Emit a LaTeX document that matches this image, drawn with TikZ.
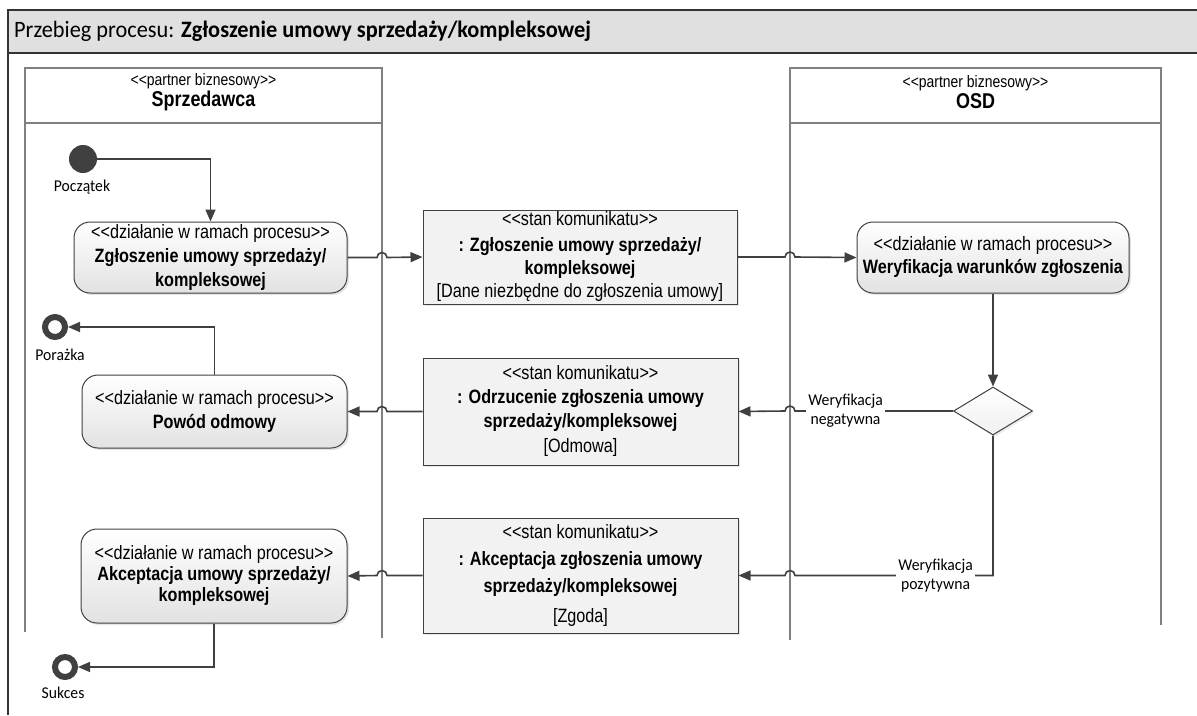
\documentclass[tikz,border=0pt]{standalone}
\usepackage{fontspec}
\setmainfont[FakeStretch=0.95]{Carlito}
\setsansfont[FakeStretch=0.84]{Liberation Sans}
\usetikzlibrary{arrows.meta, calc, positioning, shapes.geometric, shadows}
\definecolor{linegray}{RGB}{64,64,64}
\definecolor{lanegray}{RGB}{128,128,128}
\definecolor{bandgray}{RGB}{224,224,224}
\definecolor{msgfill}{RGB}{242,242,242}
\definecolor{actbottom}{RGB}{226,226,226}
\newcommand{\stereo}[1]{<\kern0pt<#1>\kern0pt>}

\begin{document}
\begin{tikzpicture}[x=1pt, y=1pt,
    lane/.style={draw=lanegray, line width=1.2pt},
    frameline/.style={draw=black!80, line width=1.4pt},
    lanetitle/.style={align=center, inner sep=0pt, font=\sffamily\fontsize{16.6}{21}\selectfont},
    action/.style={draw=linegray, line width=1pt, rounded corners=16pt, top color=white, bottom color=actbottom,
        drop shadow={shadow xshift=2pt, shadow yshift=-2pt, fill=black!20}, align=center, inner sep=0pt,
        font=\sffamily\fontsize{19.3}{24}\selectfont},
    msgbox/.style={draw=linegray, line width=1pt, fill=msgfill,
        drop shadow={shadow xshift=2pt, shadow yshift=-2pt, fill=black!20}, align=center, inner sep=0pt,
        font=\sffamily\fontsize{19.3}{24}\selectfont},
    decision/.style={diamond, draw=linegray, line width=1pt, top color=white, bottom color=black!6,
        drop shadow={shadow xshift=2pt, shadow yshift=-2pt, fill=black!15},
        minimum width=79pt, minimum height=48pt, inner sep=0pt},
    startnode/.style={circle, fill=linegray, minimum size=28pt, inner sep=0pt},
    endnode/.style={circle, draw=linegray, line width=6pt, fill=white, minimum size=20pt, inner sep=0pt},
    smalllabel/.style={inner sep=0pt, font=\fontsize{16.5}{19}\selectfont},
    edgelabel/.style={fill=white, inner sep=2pt, align=center, font=\fontsize{16.5}{19}\selectfont},
    flow/.style={draw=linegray, line width=1.6pt, -{Triangle[length=12pt, width=10pt]}}]
    \useasboundingbox (0,0) rectangle (1197,-715);

    % Frame
    \fill[bandgray] (8,-10) rectangle (1197,-53);
    \draw[frameline] (1197,-10) -- (8,-10) -- (8,-715);
    \draw[frameline] (8,-53) -- (1197,-53);
    \node[anchor=west, inner sep=0pt, font=\fontsize{23.5}{26}\selectfont] (title) at (14,-31.5)
        {Przebieg procesu: \textbf{Zgłoszenie umowy sprzedaży/kompleksowej}};

    % Lanes
    \draw[lane] (25,-632) -- (25,-68) -- (382,-68) -- (382,-638);
    \draw[lane] (25,-123) -- (382,-123);
    \draw[lane] (790,-640) -- (790,-68) -- (1161,-68) -- (1161,-625);
    \draw[lane] (790,-123) -- (1161,-123);
    \coordinate (sepL) at (382,-68);
    \coordinate (sepR) at (790,-68);
    \node[lanetitle] (laneL) at (203.5,-92.5) {\stereo{partner biznesowy}\\ {\fontsize{21.4}{21}\selectfont\bfseries Sprzedawca}};
    \node[lanetitle] (laneR) at (975.5,-92.5) {\stereo{partner biznesowy}\\ {\fontsize{21.4}{21}\selectfont\bfseries OSD}};

    % Sprzedawca
    \node[startnode] (start) at (83,-159) {};
    \node[smalllabel] (startlbl) at (82,-187) {Początek};
    \node[action, minimum width=273pt, minimum height=71pt] (act1) at (210.5,-257.5)
        {\stereo{działanie w ramach procesu}\\ \textbf{Zgłoszenie umowy sprzedaży/}\\ \textbf{kompleksowej}};
    \node[endnode] (fail) at (55,-327) {};
    \node[smalllabel] (faillbl) at (60,-355) {Porażka};
    \node[action, minimum width=265pt, minimum height=73pt] (act2) at (214.5,-411.5)
        {\stereo{działanie w ramach procesu}\\ \textbf{Powód odmowy}};
    \node[action, minimum width=266pt, minimum height=94pt] (act3) at (214,-576)
        {\stereo{działanie w ramach procesu}\\[-3pt] \textbf{Akceptacja umowy sprzedaży/}\\[-3pt] \textbf{kompleksowej}};
    \node[endnode] (done) at (65,-667) {};
    \node[smalllabel] (donelbl) at (63,-693) {Sukces};

    % Messages
    \node[msgbox, minimum width=314pt, minimum height=94pt] (msg1) at (580,-257)
        {\stereo{stan komunikatu}\\[2pt] \textbf{: Zgłoszenie umowy sprzedaży/}\\[-1pt] \textbf{kompleksowej}\\[-1pt] [Dane niezbędne do zgłoszenia umowy]};
    \node[msgbox, minimum width=315pt, minimum height=107pt] (msg2) at (580.5,-411.5)
        {\stereo{stan komunikatu}\\ \textbf{: Odrzucenie zgłoszenia umowy}\\ \textbf{sprzedaży/kompleksowej}\\[1pt] [Odmowa]};
    \node[msgbox, minimum width=315pt, minimum height=115pt] (msg3) at (580.5,-575.5)
        {\stereo{stan komunikatu}\\[3pt] \textbf{: Akceptacja zgłoszenia umowy}\\[3pt] \textbf{sprzedaży/kompleksowej}\\[6pt] [Zgoda]};

    % OSD
    \node[action, minimum width=272pt, minimum height=71pt] (osd) at (993,-257.5)
        {\stereo{działanie w ramach procesu}\\[-1pt] \textbf{Weryfikacja warunków zgłoszenia}};
    \node[decision] (dec) at (993,-411) {};

    % Flows
    \draw[flow] (start) -| (act1.north);
    \draw[flow] (act1.east) -- ($(act1.east -| sepL)+(-5,0)$) arc[start angle=180, end angle=0, radius=5pt] -- (msg1.west);
    \draw[flow] (msg1.east) -- ($(msg1.east -| sepR)+(-5,0)$) arc[start angle=180, end angle=0, radius=5pt] -- (osd.west);
    \draw[flow] (osd.south) -- (dec.north);
    \draw[flow] (dec.west) -- node[edgelabel, pos=.68] (neglbl) {Weryfikacja\\negatywna}
        ($(dec.west -| sepR)+(5,0)$) arc[start angle=0, end angle=180, radius=5pt] -- (msg2.east);
    \draw[flow] (msg2.west) -- ($(msg2.west -| sepL)+(5,0)$) arc[start angle=0, end angle=180, radius=5pt] -- (act2.east);
    \draw[flow] (dec.south) -- (dec.south |- msg3.east) -- node[edgelabel, pos=.29] (poslbl) {Weryfikacja\\pozytywna}
        ($(msg3.east -| sepR)+(5,0)$) arc[start angle=0, end angle=180, radius=5pt] -- (msg3.east);
    \draw[flow] (msg3.west) -- ($(msg3.west -| sepL)+(5,0)$) arc[start angle=0, end angle=180, radius=5pt] -- (act3.east);
    \draw[flow] (act2.north) |- (fail);
    \draw[flow] (act3.south) |- (done);
\end{tikzpicture}
\end{document}
